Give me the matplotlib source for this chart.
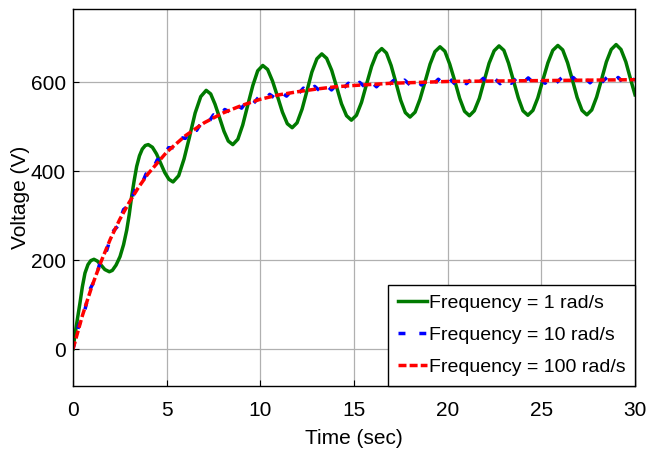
import numpy as np
import matplotlib
matplotlib.use('Agg')
import matplotlib.pyplot as plt

plt.rcParams['font.family'] = ['Liberation Sans Narrow', 'Liberation Sans', 'DejaVu Sans']

# Frequency = 1 rad/s
t_1 = [0, 0.1, 0.2, 0.37, 0.5, 0.64, 0.8, 0.95, 1.12, 1.3, 1.5, 1.7, 1.94, 2.1, 2.3, 2.51,
       2.7, 2.87, 3.0, 3.13, 3.27, 3.4, 3.55, 3.7, 3.86, 4.02,
       4.24, 4.46, 4.68, 4.90, 5.12, 5.34,
       5.64, 5.93, 6.23, 6.52, 6.82, 7.11,
       7.35, 7.58, 7.82, 8.06, 8.29, 8.53,
       8.80, 9.06, 9.33, 9.60, 9.86, 10.13,
       10.39, 10.65, 10.92, 11.18, 11.44, 11.70,
       11.96, 12.23, 12.49, 12.75, 13.02, 13.28,
       13.54, 13.81, 14.07, 14.33, 14.60, 14.86,
       15.13, 15.40, 15.67, 15.94, 16.21, 16.48,
       16.73, 16.98, 17.24, 17.49, 17.74, 17.99,
       18.26, 18.52, 18.79, 19.06, 19.32, 19.59,
       19.85, 20.11, 20.38, 20.64, 20.90, 21.16,
       21.42, 21.69, 21.95, 22.21, 22.48, 22.74,
       23.00, 23.25, 23.51, 23.77, 24.02, 24.28,
       24.55, 24.81, 25.08, 25.35, 25.61, 25.88,
       26.14, 26.40, 26.66, 26.91, 27.17, 27.43,
       27.69, 27.95, 28.21, 28.47, 28.73, 28.99,
       29.25, 29.51, 29.77, 30.0]
v_1 = [0, 30, 58, 103, 140, 171, 190, 199, 202, 198, 189, 179, 174, 177, 189, 208,
       235, 268, 302, 343, 380, 411, 435, 450, 458, 460,
       454, 439, 418, 397, 382, 376,
       390, 428, 479, 531, 568, 582,
       574, 551, 521, 490, 468, 460,
       472, 504, 549, 593, 626, 638,
       629, 603, 568, 533, 507, 498,
       509, 540, 581, 623, 653, 664,
       654, 627, 590, 552, 525, 515,
       526, 555, 596, 636, 665, 676,
       666, 638, 599, 560, 532, 522,
       533, 562, 601, 641, 669, 680,
       670, 641, 603, 564, 535, 525,
       536, 564, 604, 643, 671, 682,
       672, 643, 604, 565, 536, 526,
       537, 565, 605, 644, 672, 683,
       673, 644, 605, 566, 537, 527,
       538, 567, 606, 646, 674, 685,
       674, 646, 606, 572]

# Frequency = 10 rad/s
t_10 = [round(0.3 * k, 1) for k in range(101)]
v_10 = [0, 52, 82, 134, 158, 203, 222, 263, 277, 314,
        324, 357, 364, 394, 399, 426, 428, 453, 453, 476,
        474, 496, 492, 513, 508, 527, 521, 539, 533, 550,
        542, 559, 551, 566, 558, 573, 564, 578, 569, 583,
        573, 587, 577, 591, 580, 594, 583, 596, 585, 598,
        587, 600, 589, 602, 590, 603, 592, 604, 593, 605,
        594, 606, 594, 607, 595, 607, 596, 608, 596, 608,
        597, 609, 597, 609, 597, 609, 597, 609, 598, 610,
        598, 610, 598, 610, 598, 610, 599, 611, 599, 611,
        599, 611, 599, 611, 599, 611, 599, 611, 599, 611, 605]

# Frequency = 100 rad/s
t_100 = [0, 0.5, 1, 1.5, 2, 2.5, 3, 3.5, 4, 5, 6, 7, 8, 9, 10, 11, 12, 13, 14, 15,
         17, 20, 25, 30]
v_100 = [0, 75, 140, 197, 248, 292, 330, 364, 394, 443, 480, 509, 531, 548, 562,
         572, 579, 585, 590, 593, 598, 602, 604, 606]

labels = ['Frequency = 1 rad/s', 'Frequency = 10 rad/s', 'Frequency = 100 rad/s']

fig = plt.figure(figsize=(6.47, 4.62), dpi=100)
ax = fig.add_axes([0.1128, 0.1645, 0.8687, 0.816])

ax.plot(t_1, v_1, color='#007a00', lw=2.5, label=labels[0])
ax.plot(t_10, v_10, color='#0000ff', lw=2.5, dashes=(2.0, 4.0), label=labels[1])
ax.plot(t_100, v_100, color='#ff0000', lw=2.5, dashes=(2.3, 0.9), label=labels[2])

ax.set_xlim(0, 30)
ax.set_ylim(-83, 765)
ax.set_xticks([0, 5, 10, 15, 20, 25, 30])
ax.set_yticks([0, 200, 400, 600])
ax.tick_params(axis='both', which='major', labelsize=15, direction='in', length=4)
ax.tick_params(axis='x', pad=11)
ax.tick_params(axis='y', pad=5)
ax.grid(True, color='#b0b0b0', lw=0.9)
for s in ax.spines.values():
    s.set_linewidth(1.0)

ax.set_xlabel('Time (sec)', fontsize=15, labelpad=6)
ax.set_ylabel('Voltage (V)', fontsize=15, labelpad=1)

leg = ax.legend(loc='lower right', fontsize=14, borderaxespad=0, fancybox=False,
                framealpha=1, edgecolor='black', handlelength=1.5, handletextpad=0.1,
                labelspacing=0.75, borderpad=0.5)
leg.get_frame().set_linewidth(1.0)

fig.savefig('out.png', dpi=100)
